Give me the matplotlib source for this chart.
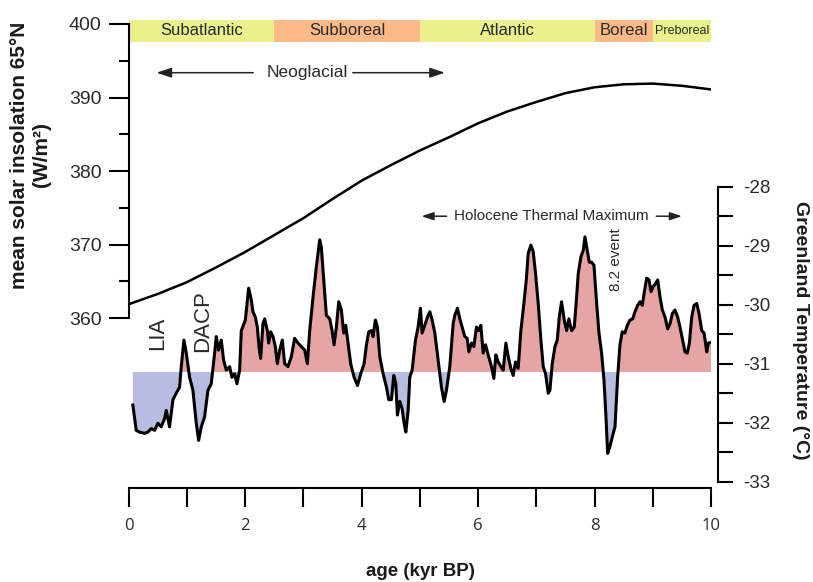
import matplotlib.pyplot as plt
import numpy as np

# Blytt-Sernander periods along the top
period_names = ['Subatlantic', 'Subboreal', 'Atlantic', 'Boreal', 'Preboreal']
period_start = [0.0, 2.5, 5.0, 8.0, 9.0]
period_end = [2.5, 5.0, 8.0, 9.0, 10.0]
period_colors = ['#eaf08c', '#fbb987', '#eaf08c', '#fbb987', '#eaf08c']

# mean summer insolation at 65N (W/m2)
insol_age = [0.0, 0.5, 1.0, 1.5, 2.0, 2.5, 3.0, 3.5, 4.0, 4.5, 5.0,
             5.5, 6.0, 6.5, 7.0, 7.5, 8.0, 8.5, 9.0, 9.5, 10.0]
insol = [361.9, 363.3, 364.9, 366.9, 369.0, 371.3, 373.6, 376.2, 378.7, 380.8, 382.8,
         384.6, 386.5, 388.1, 389.4, 390.6, 391.4, 391.8, 391.9, 391.6, 391.1]

# Greenland temperature reconstruction (deg C)
temp_age = [0.074, 0.132, 0.189, 0.275, 0.332, 0.389, 0.447, 0.504, 0.561, 0.619,
            0.647, 0.704, 0.762, 0.819, 0.876, 0.905, 0.951, 0.991, 1.048, 1.105,
            1.163, 1.203, 1.249, 1.306, 1.363, 1.42, 1.478, 1.506, 1.546, 1.592,
            1.632, 1.678, 1.735, 1.775, 1.821, 1.861, 1.907, 1.936, 2.005, 2.062,
            2.108, 2.136, 2.176, 2.211, 2.239, 2.268, 2.308, 2.337, 2.383, 2.405,
            2.44, 2.48, 2.52, 2.554, 2.595, 2.64, 2.68, 2.737, 2.795, 2.852,
            2.91, 2.967, 3.024, 3.07, 3.11, 3.167, 3.224, 3.282, 3.31, 3.34,
            3.368, 3.396, 3.454, 3.494, 3.528, 3.568, 3.608, 3.654, 3.694, 3.729,
            3.768, 3.814, 3.872, 3.93, 3.986, 4.044, 4.084, 4.124, 4.17, 4.198,
            4.238, 4.273, 4.313, 4.37, 4.428, 4.467, 4.513, 4.553, 4.588, 4.616,
            4.656, 4.696, 4.731, 4.76, 4.8, 4.828, 4.868, 4.926, 4.971, 5.011,
            5.04, 5.086, 5.132, 5.172, 5.212, 5.258, 5.315, 5.372, 5.418, 5.458,
            5.515, 5.573, 5.601, 5.647, 5.687, 5.727, 5.773, 5.813, 5.842, 5.888,
            5.928, 5.973, 6.013, 6.048, 6.088, 6.128, 6.174, 6.231, 6.271, 6.306,
            6.346, 6.392, 6.432, 6.478, 6.518, 6.563, 6.603, 6.644, 6.689, 6.735,
            6.787, 6.83, 6.861, 6.907, 6.947, 6.987, 7.033, 7.079, 7.119, 7.159,
            7.205, 7.234, 7.274, 7.32, 7.36, 7.394, 7.434, 7.48, 7.52, 7.56,
            7.606, 7.652, 7.692, 7.72, 7.766, 7.806, 7.835, 7.875, 7.91, 7.95,
            7.99, 8.036, 8.076, 8.121, 8.162, 8.196, 8.225, 8.265, 8.305, 8.351,
            8.396, 8.436, 8.476, 8.522, 8.562, 8.608, 8.654, 8.694, 8.74, 8.78,
            8.82, 8.855, 8.895, 8.935, 8.969, 9.009, 9.049, 9.084, 9.124, 9.164,
            9.21, 9.256, 9.296, 9.336, 9.381, 9.427, 9.467, 9.513, 9.553, 9.593,
            9.628, 9.668, 9.708, 9.754, 9.794, 9.84, 9.88, 9.926, 9.954, 10.0]
temp = [-31.70, -32.13, -32.16, -32.18, -32.16, -32.10, -32.13, -32.01, -32.07, -31.93,
        -31.79, -32.07, -31.61, -31.50, -31.40, -31.05, -30.60, -30.82, -31.23, -31.45,
        -32.01, -32.30, -32.07, -31.90, -31.45, -31.34, -30.82, -30.54, -30.77, -30.60,
        -30.94, -31.11, -31.05, -31.23, -31.17, -31.34, -31.11, -30.44, -30.26, -29.72,
        -29.92, -30.12, -30.21, -30.38, -30.71, -30.91, -30.32, -30.24, -30.44, -30.65,
        -30.46, -30.54, -30.71, -31.00, -30.77, -30.60, -31.00, -31.05, -30.88, -30.57,
        -30.65, -30.71, -30.77, -31.00, -30.44, -29.87, -29.36, -28.90, -29.03, -29.43,
        -29.81, -30.18, -30.24, -30.44, -30.68, -30.38, -29.95, -30.09, -30.48, -30.35,
        -30.65, -31.00, -31.23, -31.37, -31.17, -31.00, -30.68, -30.46, -30.44, -30.54,
        -30.26, -30.38, -30.88, -31.17, -31.40, -31.61, -31.61, -31.20, -31.34, -31.87,
        -31.64, -31.76, -32.01, -32.16, -31.79, -31.23, -31.11, -30.60, -30.38, -30.06,
        -30.48, -30.35, -30.21, -30.12, -30.26, -30.48, -30.94, -31.40, -31.64, -31.45,
        -31.05, -30.32, -30.18, -30.06, -30.24, -30.38, -30.54, -30.57, -30.80, -30.65,
        -30.71, -30.38, -30.44, -30.35, -30.82, -30.68, -30.85, -31.05, -31.25, -30.85,
        -30.97, -31.05, -31.11, -30.65, -30.88, -31.08, -31.20, -30.97, -31.08, -30.44,
        -29.98, -29.56, -29.13, -28.99, -29.10, -29.47, -29.98, -30.60, -31.05, -31.17,
        -31.50, -31.45, -31.00, -30.71, -30.60, -30.21, -29.95, -30.26, -30.44, -30.24,
        -30.44, -30.38, -29.87, -29.47, -29.19, -29.08, -28.85, -29.08, -29.28, -29.28,
        -29.33, -29.98, -30.48, -30.82, -31.28, -31.90, -32.52, -32.40, -32.24, -32.07,
        -31.23, -30.68, -30.46, -30.48, -30.35, -30.26, -30.24, -30.12, -30.01, -29.95,
        -30.01, -29.78, -29.55, -29.58, -29.78, -29.69, -29.64, -29.58, -29.87, -30.09,
        -30.21, -30.41, -30.32, -30.15, -30.09, -30.21, -30.38, -30.60, -30.80, -30.82,
        -30.65, -30.21, -30.01, -29.98, -30.15, -30.44, -30.48, -30.80, -30.65, -30.64]
temp_mean = -31.14

plt.rcParams['font.family'] = ['Liberation Sans', 'DejaVu Sans']
plt.rcParams['axes.unicode_minus'] = False
text_color = '#2a2a2a'

fig = plt.figure(figsize=(8.13, 5.82), dpi=100)
ax = fig.add_axes([0.1581, 0.1615, 0.7165, 0.8213])
ax2 = ax.twinx()

ax.set_xlim(0, 10)
ax.set_ylim(336.93, 401.9)
ax2.set_ylim(-33.107, -25.005)

# insolation axis on the left, only over its own range
ax.spines['top'].set_visible(False)
ax.spines['right'].set_visible(False)
ax.spines['left'].set_bounds(360, 400)
ax.spines['bottom'].set_bounds(0, 10)
for s in ['left', 'bottom']:
    ax.spines[s].set_linewidth(1.5)

for s in ['top', 'left', 'bottom']:
    ax2.spines[s].set_visible(False)
ax2.spines['right'].set_bounds(-33, -28)
ax2.spines['right'].set_position(('outward', 5))
ax2.spines['right'].set_linewidth(1.5)

ax.set_yticks([360, 370, 380, 390, 400])
ax.set_yticks([365, 375, 385, 395], minor=True)
ax.tick_params(axis='y', which='major', length=14.4, width=1.5, labelsize=14, pad=5,
               labelcolor=text_color)
ax.tick_params(axis='y', which='minor', length=7.2, width=1.5)

ax.set_xticks([0, 2, 4, 6, 8, 10])
ax.set_xticks([1, 3, 5, 7, 9], minor=True)
ax.tick_params(axis='x', which='both', length=13.7, width=1.5, labelsize=12, pad=8,
               labelcolor=text_color)
for lbl in ax.get_xticklabels():
    lbl.set_fontfamily('Open Sans')

ax2.set_yticks([-33, -32, -31, -30, -29, -28])
ax2.set_yticks([-32.5, -31.5, -30.5, -29.5, -28.5], minor=True)
ax2.tick_params(axis='y', which='both', length=10.8, width=1.5, labelsize=13.5, pad=7,
                labelcolor=text_color)

# period bands
widths = np.subtract(period_end, period_start)
ax.bar(period_start, 3.0, width=widths, bottom=397.6, align='edge',
       color=period_colors, linewidth=0)
for name, a, b in zip(period_names, period_start, period_end):
    size = 9 if name == 'Preboreal' else 12
    ax.text((a + b) / 2, 399.06, name, ha='center', va='center', fontsize=size,
            color=text_color)

# insolation curve
ax.plot(insol_age, insol, color='black', lw=1.8)

# temperature anomaly fill above / below the mean
ta = np.array(temp_age)
tt = np.array(temp)
ax2.fill_between(ta, tt, temp_mean, where=tt >= temp_mean, interpolate=True,
                 color='#e6a5a5', linewidth=0)
ax2.fill_between(ta, tt, temp_mean, where=tt <= temp_mean, interpolate=True,
                 color='#b9bce1', linewidth=0)
ax2.plot(ta, tt, color='black', lw=2.2)

# period arrows
arrow_big = dict(arrowstyle='-|>,head_length=0.45,head_width=0.15', color='#222222',
                 lw=1.1, mutation_scale=20, shrinkA=0, shrinkB=0)
ax.annotate('', xy=(0.48, 393.38), xytext=(2.14, 393.38), arrowprops=arrow_big)
ax.annotate('', xy=(5.43, 393.38), xytext=(3.85, 393.38), arrowprops=arrow_big)
ax.text(3.07, 393.38, 'Neoglacial', ha='center', va='center', fontsize=12.5,
        color=text_color)

arrow_small = dict(arrow_big, mutation_scale=16)
ax2.annotate('', xy=(5.03, -28.5), xytext=(5.46, -28.5), arrowprops=arrow_small)
ax2.annotate('', xy=(9.50, -28.5), xytext=(9.06, -28.5), arrowprops=arrow_small)
ax2.text(7.26, -28.5, 'Holocene Thermal Maximum', ha='center', va='center',
         fontsize=11, color=text_color)

ax2.text(0.506, -30.48, 'LIA', rotation=90, ha='center', va='center', fontsize=16,
         color=text_color)
ax2.text(1.27, -30.28, 'DACP', rotation=90, ha='center', va='center', fontsize=16,
         color=text_color)
ax2.text(8.37, -29.24, '8.2 event', rotation=90, ha='center', va='center', fontsize=11,
         color=text_color)

# axis titles
fig.text(31 / 813, 1 - 155 / 582, 'mean solar insolation 65°N\n(W/m²)', rotation=90,
         ha='center', va='center', fontsize=15, fontweight='bold',
         multialignment='center', color='#1a1a1a')
fig.text(800 / 813, 1 - 330 / 582, 'Greenland Temperature (°C)', rotation=270,
         ha='center', va='center', fontsize=14, fontweight='bold', color='#1a1a1a')
fig.text(420 / 813, 1 - 572 / 582, 'age (kyr BP)', ha='center', va='center',
         fontsize=13.5, fontweight='bold', color='#1a1a1a')

fig.savefig('out.png', dpi=100)
